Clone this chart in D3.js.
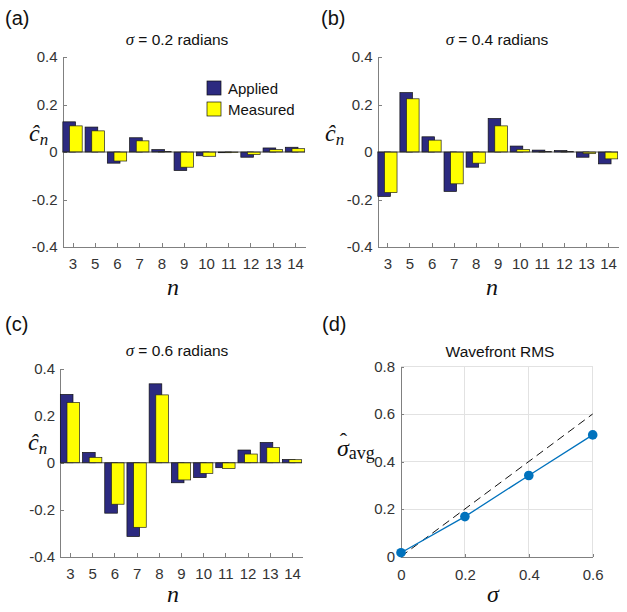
<!DOCTYPE html>
<html>
<head>
<meta charset="utf-8">
<script src="https://cdn.jsdelivr.net/npm/d3@7"></script>
<style>
  body { margin: 0; background: #fff; }
  svg { font-family: "Liberation Sans", Arial, sans-serif; }
  .axis path, .axis line { stroke: #808080; shape-rendering: crispEdges; }
  .axis text { fill: #333; font-size: 15px; }
  .math { font-family: "Liberation Serif", "DejaVu Serif", serif; font-style: italic; fill: #111; }
</style>
</head>
<body>
<svg id="chart" width="627" height="612"></svg>
<script>
// Zernike index shown on the bar panels (n = 4 is skipped)
const categories = [3, 5, 6, 7, 8, 9, 10, 11, 12, 13, 14];

const applied02  = [0.127, 0.105, -0.047, 0.060, 0.010, -0.078, -0.016, -0.003, -0.022, 0.017, 0.020];
const measured02 = [0.110, 0.089, -0.038, 0.047, 0.002, -0.064, -0.018, -0.002, -0.011, 0.010, 0.014];

const applied04  = [-0.187, 0.250, 0.064, -0.166, -0.064, 0.141, 0.025, 0.008, 0.006, -0.022, -0.050];
const measured04 = [-0.171, 0.224, 0.050, -0.134, -0.047, 0.110, 0.011, 0.002, 0.002, -0.007, -0.029];

const applied06  = [0.290, 0.044, -0.214, -0.313, 0.335, -0.085, -0.063, -0.021, 0.054, 0.086, 0.014];
const measured06 = [0.256, 0.023, -0.176, -0.274, 0.288, -0.073, -0.045, -0.025, 0.037, 0.065, 0.013];

const barTicks = [-0.4, -0.2, 0, 0.2, 0.4];

// panel (d)
const sigmaIn = [0, 0.2, 0.4, 0.6];
const sigmaAvg = [0.016, 0.168, 0.341, 0.512];
const rmsXTicks = [0, 0.2, 0.4, 0.6];
const rmsYTicks = [0, 0.2, 0.4, 0.6, 0.8];

const APPLIED = '#2c2a80';
const MEASURED = '#ffff00';

const svg = d3.select('#chart');
const fmt = d => d === 0 ? '0' : d.toFixed(1);

function barPanel(opts) {
  const { left, right, top, bottom, applied, measured, title, titleX, titleY,
          label, labelX, labelY, yLabX, yLabY, xLabX, xLabY, legend } = opts;

  const x = d3.scaleLinear().domain([-0.45, 10.45]).range([left, right]);
  const y = d3.scaleLinear().domain([-0.4, 0.4]).range([bottom, top]);
  const step = x(1) - x(0);
  const bw = 0.57 * step;
  const off = 0.15 * step;

  const g = svg.append('g');

  g.append('g')
    .attr('class', 'axis')
    .attr('transform', 'translate(' + left + ',0)')
    .call(d3.axisLeft(y).tickValues(barTicks).tickSizeInner(-4).tickSizeOuter(0).tickPadding(5)
      .tickFormat(fmt));

  g.append('g')
    .attr('class', 'axis')
    .attr('transform', 'translate(0,' + bottom + ')')
    .call(d3.axisBottom(x).tickValues(d3.range(categories.length)).tickSizeInner(-4).tickSizeOuter(0)
      .tickPadding(11).tickFormat(i => categories[i]));

  g.selectAll('.applied')
    .data(applied)
    .enter()
    .append('rect')
    .attr('class', 'applied')
    .attr('x', (d, i) => x(i) - off - bw / 2)
    .attr('width', bw)
    .attr('y', d => y(Math.max(d, 0)))
    .attr('height', d => Math.abs(y(d) - y(0)))
    .attr('fill', APPLIED)
    .attr('stroke', '#111')
    .attr('stroke-width', 0.7);

  g.selectAll('.measured')
    .data(measured)
    .enter()
    .append('rect')
    .attr('class', 'measured')
    .attr('x', (d, i) => x(i) + off - bw / 2)
    .attr('width', bw)
    .attr('y', d => y(Math.max(d, 0)))
    .attr('height', d => Math.abs(y(d) - y(0)))
    .attr('fill', MEASURED)
    .attr('stroke', '#222')
    .attr('stroke-width', 0.7);

  // baseline
  g.append('line')
    .attr('x1', left).attr('x2', right)
    .attr('y1', y(0)).attr('y2', y(0))
    .attr('stroke', '#333')
    .attr('stroke-width', 0.8);

  const t = g.append('text')
    .attr('x', titleX).attr('y', titleY)
    .attr('text-anchor', 'middle')
    .attr('font-size', 15.5)
    .attr('fill', '#111');
  t.append('tspan').attr('class', 'math').attr('font-size', 17).text('σ');
  t.append('tspan').text(' = ' + title + ' radians');

  g.append('text')
    .attr('x', labelX).attr('y', labelY)
    .attr('font-size', 20)
    .attr('fill', '#111')
    .text(label);

  const yl = g.append('text')
    .attr('class', 'math')
    .attr('x', yLabX).attr('y', yLabY)
    .attr('font-size', 24);
  yl.append('tspan').text('ĉ');
  yl.append('tspan').attr('font-size', 17).attr('dy', 4).text('n');

  g.append('text')
    .attr('class', 'math')
    .attr('x', xLabX).attr('y', xLabY)
    .attr('text-anchor', 'middle')
    .attr('font-size', 24)
    .text('n');

  if (legend) {
    const items = [['Applied', APPLIED], ['Measured', MEASURED]];
    const lg = g.selectAll('.legend')
      .data(items)
      .enter()
      .append('g')
      .attr('transform', (d, i) => 'translate(207,' + (81 + i * 21) + ')');
    lg.append('rect')
      .attr('width', 14).attr('height', 14)
      .attr('fill', d => d[1])
      .attr('stroke', '#111')
      .attr('stroke-width', 0.7);
    lg.append('text')
      .attr('x', 21).attr('y', 12.5)
      .attr('font-size', 15)
      .attr('fill', '#111')
      .text(d => d[0]);
  }
}

barPanel({ left: 62.5, right: 305, top: 57, bottom: 247, applied: applied02, measured: measured02,
  title: '0.2', titleX: 177, titleY: 45, label: '(a)', labelX: 5, labelY: 25,
  yLabX: 29, yLabY: 141, xLabX: 173, xLabY: 295, legend: true });

barPanel({ left: 377.5, right: 618, top: 57, bottom: 247, applied: applied04, measured: measured04,
  title: '0.4', titleX: 497, titleY: 45, label: '(b)', labelX: 321, labelY: 25,
  yLabX: 325, yLabY: 141, xLabX: 492, xLabY: 295, legend: false });

barPanel({ left: 60, right: 302, top: 368.5, bottom: 557, applied: applied06, measured: measured06,
  title: '0.6', titleX: 177, titleY: 356, label: '(c)', labelX: 5, labelY: 331,
  yLabX: 28, yLabY: 450, xLabX: 173, xLabY: 602, legend: false });

// panel (d): wavefront RMS
function rmsPanel() {
  const left = 401, right = 592.7, top = 366.5, bottom = 556.5;
  const x = d3.scaleLinear().domain([0, 0.6]).range([left, right]);
  const y = d3.scaleLinear().domain([0, 0.8]).range([bottom, top]);
  const g = svg.append('g');

  g.append('g')
    .selectAll('line.gx')
    .data(rmsXTicks.slice(1))
    .enter()
    .append('line')
    .attr('x1', d => x(d)).attr('x2', d => x(d))
    .attr('y1', bottom).attr('y2', top)
    .attr('stroke', '#e2e2e2')
    .attr('shape-rendering', 'crispEdges');

  g.append('g')
    .selectAll('line.gy')
    .data(rmsYTicks.slice(1))
    .enter()
    .append('line')
    .attr('x1', left).attr('x2', right)
    .attr('y1', d => y(d)).attr('y2', d => y(d))
    .attr('stroke', '#e2e2e2')
    .attr('shape-rendering', 'crispEdges');

  g.append('g')
    .attr('class', 'axis')
    .attr('transform', 'translate(' + left + ',0)')
    .call(d3.axisLeft(y).tickValues(rmsYTicks).tickSizeInner(-3).tickSizeOuter(0).tickPadding(6)
      .tickFormat(fmt));

  g.append('g')
    .attr('class', 'axis')
    .attr('transform', 'translate(0,' + bottom + ')')
    .call(d3.axisBottom(x).tickValues(rmsXTicks).tickSizeInner(-3).tickSizeOuter(0).tickPadding(13)
      .tickFormat(fmt));

  // ideal response
  g.append('line')
    .attr('x1', x(0)).attr('y1', y(0))
    .attr('x2', x(0.6)).attr('y2', y(0.6))
    .attr('stroke', '#111')
    .attr('stroke-width', 1)
    .attr('stroke-dasharray', '8,5');

  const pts = sigmaIn.map((s, i) => [s, sigmaAvg[i]]);
  g.append('path')
    .datum(pts)
    .attr('fill', 'none')
    .attr('stroke', '#0072bd')
    .attr('stroke-width', 1.3)
    .attr('d', d3.line().x(d => x(d[0])).y(d => y(d[1])));

  g.selectAll('circle')
    .data(pts)
    .enter()
    .append('circle')
    .attr('cx', d => x(d[0]))
    .attr('cy', d => y(d[1]))
    .attr('r', 4.8)
    .attr('fill', '#0072bd');

  g.append('text')
    .attr('x', 500).attr('y', 357)
    .attr('text-anchor', 'middle')
    .attr('font-size', 15.5)
    .attr('fill', '#111')
    .text('Wavefront RMS');

  g.append('text')
    .attr('x', 322).attr('y', 331)
    .attr('font-size', 20)
    .attr('fill', '#111')
    .text('(d)');

  // sigma-hat with subscript "avg", hat placed as a shifted tspan
  const yl = g.append('text')
    .attr('x', 337).attr('y', 456)
    .attr('font-family', '"Liberation Serif", serif')
    .attr('fill', '#111');
  yl.append('tspan').attr('font-style', 'italic').attr('font-size', 24).text('σ');
  yl.append('tspan').attr('font-size', 22).attr('dx', -9).attr('dy', -8).text('ˆ');
  yl.append('tspan').attr('font-size', 18).attr('dx', 1.5).attr('dy', 11).text('avg');

  g.append('text')
    .attr('class', 'math')
    .attr('x', 493).attr('y', 602)
    .attr('text-anchor', 'middle')
    .attr('font-size', 24)
    .text('σ');
}

rmsPanel();
</script>
</body>
</html>
